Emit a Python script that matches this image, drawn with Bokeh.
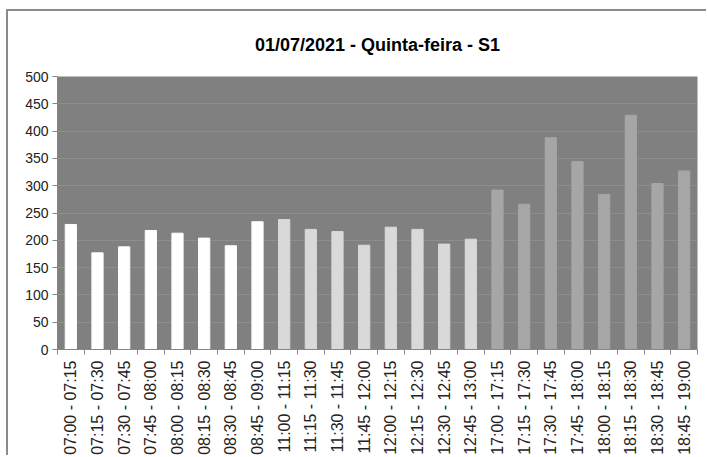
import math
from bokeh.plotting import figure
from bokeh.models import ColumnDataSource, FixedTicker, Range1d
from bokeh.embed import file_html
from bokeh.resources import INLINE

labels = ["07:00 - 07:15", "07:15 - 07:30", "07:30 - 07:45", "07:45 - 08:00",
          "08:00 - 08:15", "08:15 - 08:30", "08:30 - 08:45", "08:45 - 09:00",
          "11:00 - 11:15", "11:15 - 11:30", "11:30 - 11:45", "11:45 - 12:00",
          "12:00 - 12:15", "12:15 - 12:30", "12:30 - 12:45", "12:45 - 13:00",
          "17:00 - 17:15", "17:15 - 17:30", "17:30 - 17:45", "17:45 - 18:00",
          "18:00 - 18:15", "18:15 - 18:30", "18:30 - 18:45", "18:45 - 19:00"]
values = [229, 177, 188, 218, 213, 204, 190, 234,
          238, 220, 216, 191, 224, 220, 193, 202,
          292, 266, 388, 344, 284, 429, 304, 327]
period_colors = ["#ffffff", "#d9d9d9", "#a6a6a6"]
period = [0]*8 + [1]*8 + [2]*8
y_ticks = list(range(0, 501, 50))

FONT = "Liberation Sans"

xs = [i + 0.5 for i in range(len(labels))]
src = ColumnDataSource(dict(x=xs, top=values, color=[period_colors[k] for k in period]))

p = figure(width=700, height=446, output_backend="svg", toolbar_location=None,
           x_range=Range1d(0, len(labels)), y_range=Range1d(0, 500),
           title="01/07/2021 - Quinta-feira - S1")
p.min_border_left = 49
p.min_border_right = 11
p.min_border_top = 64
p.min_border_bottom = 107
p.styles = {"border-left": "2px solid #8a8a8a", "border-top": "2px solid #8a8a8a",
            "margin-left": "6px", "margin-top": "9px"}

p.title.align = "center"
p.title.text_font = FONT
p.title.text_font_size = "18px"
p.title.text_font_style = "bold"
p.title.text_color = "#000000"
p.title.standoff = 43

p.background_fill_color = "#808080"
p.border_fill_color = "#ffffff"
p.outline_line_color = None

p.vbar(x="x", top="top", width=0.42, source=src, fill_color="color", line_color="color")

p.xgrid.visible = False
p.ygrid.ticker = FixedTicker(ticks=y_ticks)
p.ygrid.grid_line_color = "#8e8e8e"
p.ygrid.grid_line_width = 1

xa = p.xaxis[0]
xa.ticker = FixedTicker(ticks=xs, minor_ticks=list(range(len(labels) + 1)))
xa.major_label_overrides = {x: lab for x, lab in zip(xs, labels)}
xa.major_label_orientation = math.pi / 2
xa.major_tick_out = 0
xa.major_tick_in = 0
xa.minor_tick_out = 5
xa.minor_tick_in = 0
xa.minor_tick_line_color = "#868686"
xa.axis_line_color = "#868686"
xa.major_label_text_font = FONT
xa.major_label_text_font_size = "16px"
xa.major_label_text_color = "#222222"
xa.major_label_standoff = 6

ya = p.yaxis[0]
ya.ticker = FixedTicker(ticks=y_ticks)
ya.major_tick_out = 5
ya.major_tick_in = 0
ya.minor_tick_line_color = None
ya.major_tick_line_color = "#868686"
ya.axis_line_color = "#868686"
ya.major_label_text_font = FONT
ya.major_label_text_font_size = "14px"
ya.major_label_text_color = "#222222"
ya.major_label_standoff = 4

open("out.html", "w").write(file_html(p, INLINE))
